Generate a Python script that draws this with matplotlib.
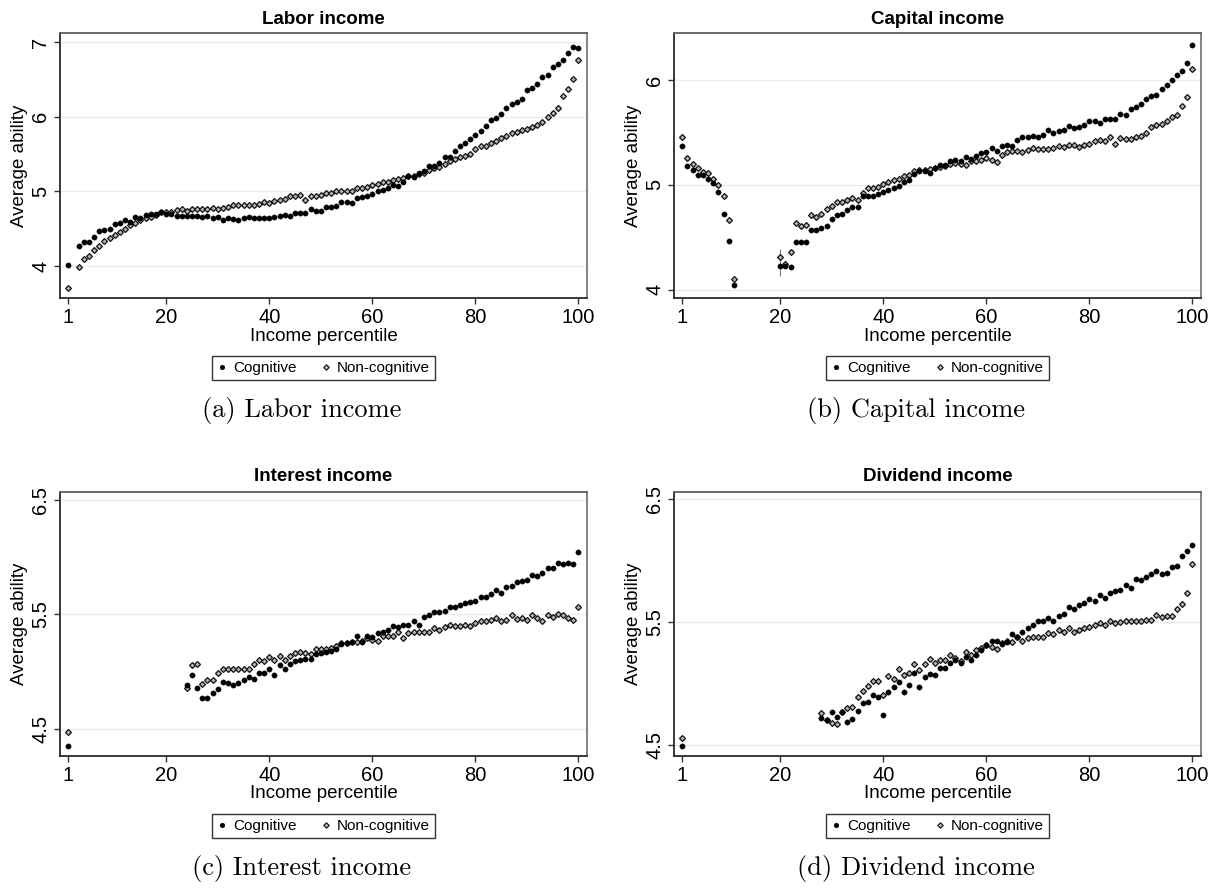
import numpy as np
import matplotlib
matplotlib.use("Agg")
import matplotlib.pyplot as plt
from matplotlib.lines import Line2D

nan = np.nan
pct = np.arange(1, 101)

# ---------------- data (average ability by income percentile) ----------------
labor_cog = [4.01, nan, 4.27, 4.32, 4.32, 4.39, 4.47, 4.48, 4.49, 4.56,
             4.57, 4.61, 4.59, 4.65, 4.64, 4.68, 4.70, 4.70, 4.72, 4.69,
             4.70, 4.67, 4.67, 4.67, 4.67, 4.67, 4.66, 4.67, 4.64, 4.65,
             4.61, 4.64, 4.63, 4.61, 4.64, 4.65, 4.64, 4.64, 4.64, 4.64,
             4.65, 4.67, 4.68, 4.67, 4.71, 4.71, 4.71, 4.76, 4.74, 4.73,
             4.79, 4.79, 4.80, 4.86, 4.85, 4.84, 4.91, 4.92, 4.94, 4.96,
             5.00, 5.02, 5.04, 5.08, 5.07, 5.12, 5.20, 5.19, 5.25, 5.27,
             5.34, 5.34, 5.38, 5.46, 5.46, 5.54, 5.60, 5.64, 5.70, 5.76,
             5.81, 5.88, 5.96, 5.98, 6.04, 6.11, 6.17, 6.20, 6.24, 6.36,
             6.38, 6.44, 6.53, 6.56, 6.66, 6.71, 6.76, 6.85, 6.93, 6.92]
labor_noncog = [3.70, nan, 3.98, 4.09, 4.13, 4.21, 4.27, 4.33, 4.38, 4.42,
                4.46, 4.50, 4.55, 4.58, 4.62, 4.64, 4.66, 4.68, 4.72, 4.72,
                4.72, 4.75, 4.76, 4.74, 4.76, 4.76, 4.76, 4.76, 4.77, 4.76,
                4.77, 4.79, 4.82, 4.82, 4.82, 4.82, 4.82, 4.83, 4.85, 4.84,
                4.87, 4.88, 4.90, 4.93, 4.94, 4.95, 4.88, 4.93, 4.93, 4.95,
                4.97, 4.98, 5.00, 5.00, 5.00, 5.01, 5.04, 5.05, 5.06, 5.08,
                5.10, 5.12, 5.13, 5.15, 5.17, 5.18, 5.20, 5.21, 5.23, 5.25,
                5.29, 5.31, 5.33, 5.37, 5.40, 5.43, 5.46, 5.47, 5.50, 5.56,
                5.60, 5.61, 5.64, 5.67, 5.71, 5.74, 5.78, 5.79, 5.82, 5.84,
                5.86, 5.89, 5.93, 5.99, 6.05, 6.12, 6.28, 6.37, 6.51, 6.76]

capital_cog = ([5.37, 5.18, 5.14, 5.09, 5.09, 5.06, 5.02, 4.93, 4.72, 4.46, 4.04]
               + [nan] * 8 +
               [4.23, 4.23, 4.22, 4.45, 4.45, 4.45, 4.57, 4.57, 4.59, 4.61,
                4.67, 4.71, 4.72, 4.76, 4.79, 4.79, 4.89, 4.89, 4.89, 4.91,
                4.93, 4.95, 4.97, 4.99, 5.03, 5.05, 5.10, 5.13, 5.13, 5.11,
                5.16, 5.19, 5.19, 5.23, 5.24, 5.23, 5.27, 5.25, 5.28, 5.30,
                5.31, 5.35, 5.32, 5.37, 5.38, 5.37, 5.43, 5.46, 5.46, 5.47,
                5.46, 5.48, 5.52, 5.50, 5.51, 5.52, 5.56, 5.54, 5.55, 5.57,
                5.61, 5.61, 5.59, 5.63, 5.63, 5.63, 5.68, 5.67, 5.72, 5.74,
                5.77, 5.82, 5.85, 5.86, 5.92, 5.95, 6.00, 6.05, 6.09, 6.16, 6.34])
capital_noncog = ([5.46, 5.26, 5.20, 5.16, 5.12, 5.11, 5.06, 5.00, 4.89, 4.66, 4.10]
                  + [nan] * 8 +
                  [4.31, 4.24, 4.36, 4.64, 4.61, 4.62, 4.71, 4.69, 4.72, 4.77,
                   4.80, 4.84, 4.84, 4.86, 4.87, 4.86, 4.92, 4.97, 4.97, 4.98,
                   5.01, 5.03, 5.05, 5.06, 5.08, 5.09, 5.13, 5.14, 5.14, 5.15,
                   5.16, 5.17, 5.18, 5.20, 5.21, 5.20, 5.19, 5.23, 5.23, 5.24,
                   5.26, 5.24, 5.22, 5.29, 5.31, 5.32, 5.32, 5.31, 5.33, 5.35,
                   5.34, 5.34, 5.34, 5.35, 5.37, 5.36, 5.38, 5.38, 5.36, 5.38,
                   5.39, 5.42, 5.43, 5.42, 5.46, 5.39, 5.45, 5.44, 5.44, 5.46,
                   5.47, 5.50, 5.55, 5.57, 5.58, 5.61, 5.65, 5.67, 5.75, 5.84, 6.11])

interest_cog = ([4.35] + [nan] * 22 +
                [4.88, 4.97, 4.86, 4.77, 4.77, 4.81, 4.85, 4.91, 4.90, 4.88,
                 4.90, 4.93, 4.95, 4.94, 4.99, 4.99, 5.02, 4.97, 5.06, 5.02,
                 5.07, 5.09, 5.10, 5.11, 5.11, 5.15, 5.16, 5.17, 5.18, 5.20,
                 5.24, 5.25, 5.26, 5.31, 5.26, 5.31, 5.30, 5.34, 5.35, 5.36,
                 5.40, 5.39, 5.41, 5.41, 5.44, 5.41, 5.48, 5.49, 5.52, 5.52,
                 5.53, 5.56, 5.56, 5.58, 5.60, 5.61, 5.62, 5.65, 5.65, 5.68,
                 5.71, 5.69, 5.74, 5.75, 5.78, 5.79, 5.80, 5.84, 5.83, 5.86,
                 5.90, 5.90, 5.95, 5.94, 5.95, 5.94, 6.04])
interest_noncog = ([4.47] + [nan] * 22 +
                   [4.86, 5.06, 5.07, 4.89, 4.93, 4.93, 4.99, 5.02, 5.02, 5.02,
                    5.02, 5.02, 5.02, 5.07, 5.10, 5.09, 5.13, 5.10, 5.14, 5.10,
                    5.14, 5.16, 5.17, 5.16, 5.15, 5.20, 5.20, 5.20, 5.21, 5.22,
                    5.25, 5.25, 5.26, 5.26, 5.27, 5.29, 5.28, 5.27, 5.31, 5.31,
                    5.31, 5.35, 5.29, 5.34, 5.35, 5.35, 5.35, 5.35, 5.38, 5.36,
                    5.39, 5.41, 5.40, 5.40, 5.41, 5.40, 5.42, 5.44, 5.44, 5.45,
                    5.47, 5.44, 5.45, 5.49, 5.46, 5.47, 5.45, 5.49, 5.47, 5.44,
                    5.49, 5.48, 5.50, 5.49, 5.47, 5.45, 5.56])

dividend_cog = ([4.49] + [nan] * 26 +
                [4.72, 4.70, 4.77, 4.73, 4.77, 4.69, 4.71, 4.78, 4.84, 4.85,
                 4.91, 4.89, 4.74, 4.93, 4.97, 5.01, 4.93, 4.99, 5.09, 4.97,
                 5.05, 5.08, 5.07, 5.13, 5.13, 5.17, 5.19, 5.17, 5.22, 5.19,
                 5.23, 5.27, 5.31, 5.35, 5.35, 5.32, 5.34, 5.40, 5.38, 5.42,
                 5.45, 5.48, 5.51, 5.51, 5.53, 5.51, 5.55, 5.57, 5.62, 5.61,
                 5.64, 5.66, 5.69, 5.67, 5.72, 5.70, 5.74, 5.75, 5.76, 5.80,
                 5.78, 5.85, 5.84, 5.87, 5.89, 5.92, 5.89, 5.90, 5.95, 5.96,
                 6.04, 6.08, 6.13])
dividend_noncog = ([4.56] + [nan] * 26 +
                   [4.76, 4.70, 4.68, 4.67, 4.77, 4.80, 4.81, 4.89, 4.94, 4.98,
                    5.02, 5.02, 4.91, 5.06, 5.04, 5.12, 5.07, 5.09, 5.16, 5.11,
                    5.16, 5.20, 5.17, 5.19, 5.19, 5.23, 5.21, 5.18, 5.26, 5.23,
                    5.27, 5.29, 5.31, 5.30, 5.28, 5.33, 5.35, 5.34, 5.38, 5.35,
                    5.37, 5.38, 5.38, 5.38, 5.41, 5.40, 5.44, 5.42, 5.45, 5.42,
                    5.44, 5.45, 5.46, 5.48, 5.49, 5.48, 5.51, 5.49, 5.50, 5.51,
                    5.51, 5.51, 5.51, 5.52, 5.52, 5.56, 5.54, 5.55, 5.55, 5.61,
                    5.65, 5.74, 5.97])

# small confidence interval visible in the capital-income panel
capital_ci_pct = [20]
capital_ci_lo = [4.13]
capital_ci_hi = [4.39]

titles = ["Labor income", "Capital income", "Interest income", "Dividend income"]
captions = ["(a) Labor income", "(b) Capital income", "(c) Interest income", "(d) Dividend income"]
series = [(labor_cog, labor_noncog), (capital_cog, capital_noncog),
          (interest_cog, interest_noncog), (dividend_cog, dividend_noncog)]
yticks = [[4, 5, 6, 7], [4, 5, 6], [4.5, 5.5, 6.5], [4.5, 5.5, 6.5]]
ylims = [(3.57, 7.12), (3.92, 6.45), (4.265, 6.566), (4.41, 6.56)]
xticks = [1, 20, 40, 60, 80, 100]
legend_labels = ["Cognitive", "Non-cognitive"]

# ---------------- layout ----------------
W, H = 1220, 890
plt.rcParams['font.family'] = ['Liberation Sans', 'DejaVu Sans']
fig = plt.figure(figsize=(W / 100, H / 100), dpi=100)
fig.patch.set_facecolor('white')

# pixel boxes: left, top, right, bottom
boxes = [(60, 33, 587, 298), (674, 33, 1201, 298),
         (60, 492, 587, 756), (674, 492, 1201, 756)]
title_y = [19, 19, 477, 477]
caption_x = [302, 916, 302, 916]
ylabel_x = [20, 634, 20, 634]

def fx(px):
    return px / W

def fy(py):
    return 1 - py / H

nc_style = dict(linestyle='none', marker='D', markerfacecolor='#b4b4b4',
                markeredgecolor='#111111')
cg_style = dict(linestyle='none', marker='o', markerfacecolor='black',
                markeredgecolor='black')

for i, (l, t, r, b) in enumerate(boxes):
    ax = fig.add_axes([fx(l), fy(b), (r - l) / W, (b - t) / H])
    cog, nonc = series[i]
    ax.set_xlim(-0.61, 101.65)
    ax.set_ylim(*ylims[i])
    for yv in yticks[i]:
        ax.axhline(yv, color='#e6eef0', lw=1.0, zorder=0)
    if i == 1:
        ax.vlines(capital_ci_pct, capital_ci_lo, capital_ci_hi, color='#777777', lw=0.8, zorder=1)
    ax.plot(pct, nonc, markersize=3.0, markeredgewidth=0.9, zorder=3, **nc_style)
    ax.plot(pct, cog, markersize=3.9, markeredgewidth=0.2, zorder=4, **cg_style)

    ax.set_xticks(xticks)
    ax.set_xticklabels([str(v) for v in xticks], fontsize=14.5)
    ax.set_yticks(yticks[i])
    ax.set_yticklabels([('%g' % v) for v in yticks[i]], fontsize=14.5,
                       rotation=90, va='center')
    ax.tick_params(axis='both', direction='out', length=4, width=1.0, color='#333333', pad=3)
    for name, sp in ax.spines.items():
        sp.set_linewidth(1.3)
        sp.set_color('#2a2a2a')
    ax.spines['right'].set_color('#7a7a7a')
    ax.spines['top'].set_color('#606060')

    cx = (l + r) / 2
    fig.text(fx(cx), fy(title_y[i]), titles[i], ha='center', va='center',
             fontsize=13.5, fontweight='bold')
    fig.text(fx(cx), fy(b + 38), "Income percentile", ha='center', va='center', fontsize=13.5)
    fig.text(fx(ylabel_x[i]), fy((t + b) / 2), "Average ability", ha='center', va='center',
             rotation=90, fontsize=13.5)

    handles = [Line2D([], [], markersize=3.5, markeredgewidth=0.2, **cg_style),
               Line2D([], [], markersize=2.8, markeredgewidth=0.8, **nc_style)]
    leg = fig.legend(handles, legend_labels, loc='center',
                     bbox_to_anchor=(fx(cx), fy(b + 70)), ncol=2, fontsize=11,
                     frameon=True, fancybox=False, edgecolor='black',
                     handlelength=0.6, handletextpad=0.4, columnspacing=1.6,
                     borderpad=0.35, borderaxespad=0)
    leg.get_frame().set_linewidth(1.0)

    fig.text(fx(caption_x[i]), fy(b + 113), captions[i], ha='center', va='center',
             fontsize=19, family=['cmr10', 'DejaVu Serif'])

fig.savefig("out.png", dpi=100, facecolor='white')
